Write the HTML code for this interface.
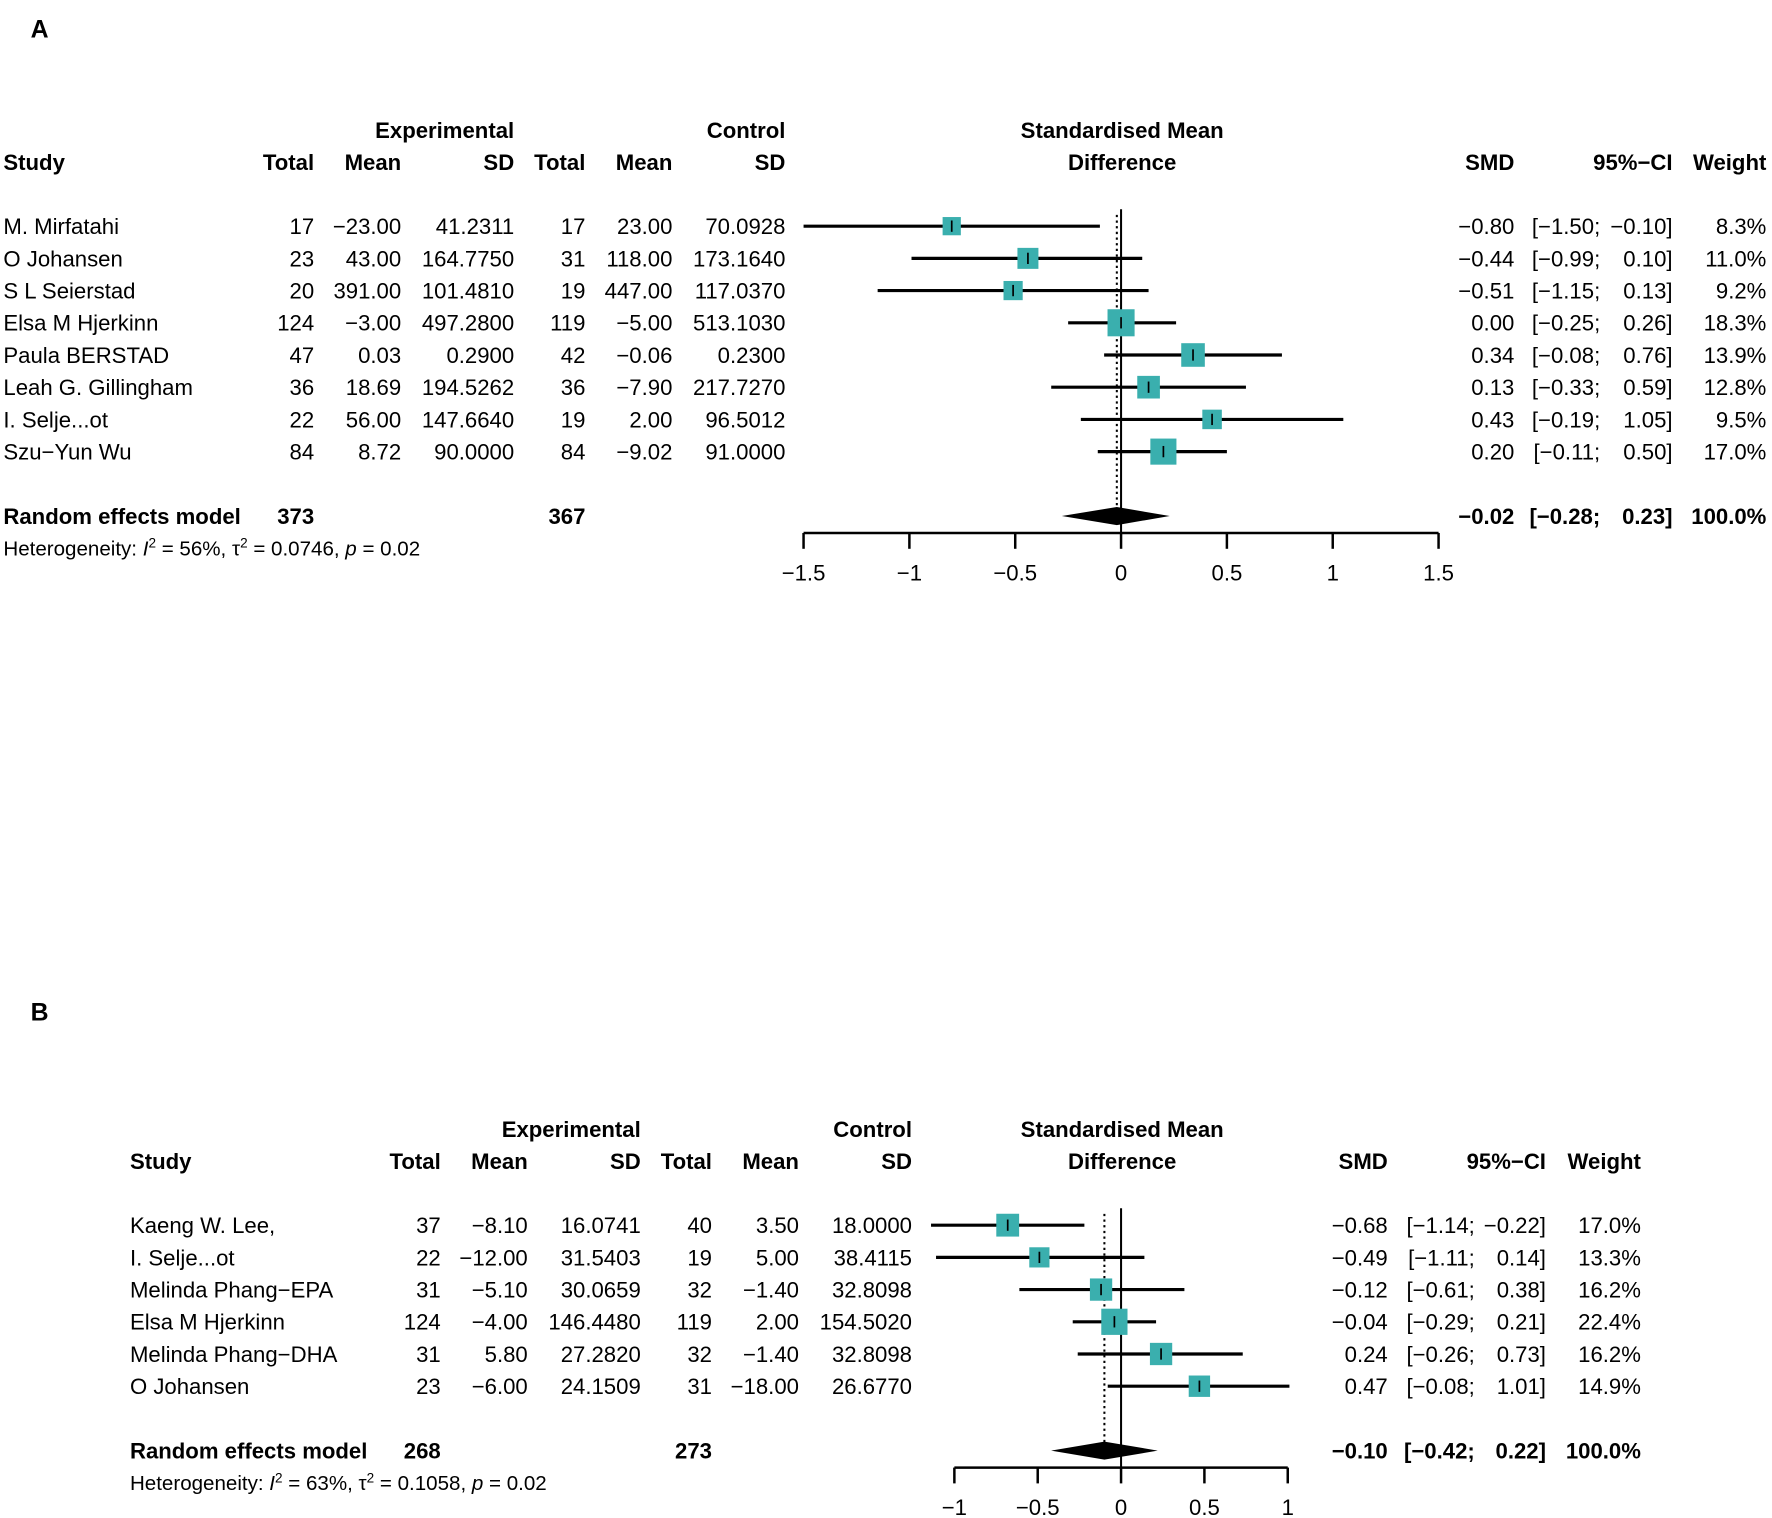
<!DOCTYPE html>
<html><head><meta charset="utf-8"><style>
html,body{margin:0;padding:0;background:#fff;}
svg{display:block;font-family:"Liberation Sans",Arial,sans-serif;}
</style></head><body>
<svg id="chart" width="1772" height="1518" viewBox="0 0 1568 1343" xmlns="http://www.w3.org/2000/svg"></svg>
<script>
// Panel A data
const studiesA = ["M. Mirfatahi","O Johansen","S L Seierstad","Elsa M Hjerkinn","Paula BERSTAD","Leah G. Gillingham","I. Selje...ot","Szu\u2212Yun Wu"];
const expTotalA = ["17","23","20","124","47","36","22","84"];
const expMeanA = ["\u221223.00","43.00","391.00","\u22123.00","0.03","18.69","56.00","8.72"];
const expSdA = ["41.2311","164.7750","101.4810","497.2800","0.2900","194.5262","147.6640","90.0000"];
const ctlTotalA = ["17","31","19","119","42","36","19","84"];
const ctlMeanA = ["23.00","118.00","447.00","\u22125.00","\u22120.06","\u22127.90","2.00","\u22129.02"];
const ctlSdA = ["70.0928","173.1640","117.0370","513.1030","0.2300","217.7270","96.5012","91.0000"];
const smdA = [-0.80,-0.44,-0.51,0.00,0.34,0.13,0.43,0.20];
const loA = [-1.50,-0.99,-1.15,-0.25,-0.08,-0.33,-0.19,-0.11];
const hiA = [-0.10,0.10,0.13,0.26,0.76,0.59,1.05,0.50];
const weightA = [8.3,11.0,9.2,18.3,13.9,12.8,9.5,17.0];
const pooledA = [-0.02,-0.28,0.23];
const totalsA = ["373","367"];
const hetA = ["56%","0.0746","0.02"];
const ticksA = [-1.5,-1,-0.5,0,0.5,1,1.5];

// Panel B data
const studiesB = ["Kaeng W. Lee,","I. Selje...ot","Melinda Phang\u2212EPA","Elsa M Hjerkinn","Melinda Phang\u2212DHA","O Johansen"];
const expTotalB = ["37","22","31","124","31","23"];
const expMeanB = ["\u22128.10","\u221212.00","\u22125.10","\u22124.00","5.80","\u22126.00"];
const expSdB = ["16.0741","31.5403","30.0659","146.4480","27.2820","24.1509"];
const ctlTotalB = ["40","19","32","119","32","31"];
const ctlMeanB = ["3.50","5.00","\u22121.40","2.00","\u22121.40","\u221218.00"];
const ctlSdB = ["18.0000","38.4115","32.8098","154.5020","32.8098","26.6770"];
const smdB = [-0.68,-0.49,-0.12,-0.04,0.24,0.47];
const loB = [-1.14,-1.11,-0.61,-0.29,-0.26,-0.08];
const hiB = [-0.22,0.14,0.38,0.21,0.73,1.01];
const weightB = [17.0,13.3,16.2,22.4,16.2,14.9];
const pooledB = [-0.10,-0.42,0.22];
const totalsB = ["268","273"];
const hetB = ["63%","0.1058","0.02"];
const ticksB = [-1,-0.5,0,0.5,1];

const NS="http://www.w3.org/2000/svg";
const svg=document.getElementById('chart');
const FS=19.6;
function mk(tag,attrs,parent){const e=document.createElementNS(NS,tag);for(const k in attrs)e.setAttribute(k,attrs[k]);(parent||svg).appendChild(e);return e;}
function txt(s,x,y,anchor,bold,parent){const t=mk('text',{x:x,y:y,'text-anchor':anchor||'start','font-size':FS,fill:'#000'},parent);if(bold)t.setAttribute('font-weight','bold');t.textContent=s;return t;}
function fmt(v){const s=Math.abs(v).toFixed(2);return (v<0?'\u2212':'')+s;}
function fmtT(v){const s=String(Math.abs(v));return (v<0?'\u2212':'')+s;}

function panel(o){
  const g=mk('g',{});
  
  
  const X=v=>o.x0+v*o.unit;
  const lab=mk('text',{x:o.labelX,y:o.labelY,'font-size':22,'font-weight':'bold','text-anchor':'middle'},g);
  lab.textContent=o.label;
  
  
  const c=o.cols, h1=o.h1, h2=o.h1+28.5;
  const hdr=mk('g',{},g);
  
  
  txt('Experimental',c.esd,h1,'end',true,hdr);
  txt('Control',c.csd,h1,'end',true,hdr);
  txt('Standardised Mean',o.x0+1,h1,'middle',true,hdr);
  txt('Study',c.study,h2,'start',true,hdr);
  txt('Total',c.et,h2,'end',true,hdr);
  txt('Mean',c.em,h2,'end',true,hdr);
  txt('SD',c.esd,h2,'end',true,hdr);
  txt('Total',c.ct,h2,'end',true,hdr);
  txt('Mean',c.cm,h2,'end',true,hdr);
  txt('SD',c.csd,h2,'end',true,hdr);
  txt('Difference',o.x0+1,h2,'middle',true,hdr);
  txt('SMD',c.smd,h2,'end',true,hdr);
  txt('95%\u2212CI',c.ci,h2,'end',true,hdr);
  txt('Weight',c.w,h2,'end',true,hdr);
  const n=o.studies.length;
  const rowY=i=>o.r0+i*28.5;
  const reY=rowY(n-1)+57;
  const axisY=reY+15;
  const zl=mk('line',{x1:X(0),x2:X(0),y1:rowY(0)-15,y2:axisY,stroke:'#000','stroke-width':1.8},g);
  
  
  const pl=mk('line',{x1:X(o.pooled[0]),x2:X(o.pooled[0]),y1:rowY(0)-10,y2:reY+8,stroke:'#000','stroke-width':1.8,'stroke-dasharray':'2,3'},g);
  
  
  for(let i=0;i<n;i++){
    const y=rowY(i), ty=y+7;
    const r=mk('g',{},g);
    
    
    txt(o.studies[i],c.study,ty,'start',false,r);
    txt(o.et[i],c.et,ty,'end',false,r);
    txt(o.em[i],c.em,ty,'end',false,r);
    txt(o.esd[i],c.esd,ty,'end',false,r);
    txt(o.ct[i],c.ct,ty,'end',false,r);
    txt(o.cm[i],c.cm,ty,'end',false,r);
    txt(o.csd[i],c.csd,ty,'end',false,r);
    txt(fmt(o.smd[i]),c.smd,ty,'end',false,r);
    txt('['+fmt(o.lo[i])+';',c.ciSemi,ty,'end',false,r);
    txt(fmt(o.hi[i])+']',c.ci,ty,'end',false,r);
    txt(o.w[i].toFixed(1)+'%',c.w,ty,'end',false,r);
    const ci=mk('line',{x1:X(o.lo[i]),x2:X(o.hi[i]),y1:y,y2:y,stroke:'#000','stroke-width':2.8},r);
    
    
    const s=o.sq*Math.sqrt(o.w[i]);
    const sq=mk('rect',{x:X(o.smd[i])-s/2,y:y-s/2,width:s,height:s,fill:'#3aafae'},r);
    
    
    const tk=mk('line',{x1:X(o.smd[i]),x2:X(o.smd[i]),y1:y-5,y2:y+5,stroke:'#000','stroke-width':1.5},r);
    
    
  }
  const pr=mk('g',{},g);
  
  
  const ry=reY+7;
  txt('Random effects model',c.study,ry,'start',true,pr);
  txt(o.totals[0],c.et,ry,'end',true,pr);
  txt(o.totals[1],c.ct,ry,'end',true,pr);
  txt(fmt(o.pooled[0]),c.smd,ry,'end',true,pr);
  txt('['+fmt(o.pooled[1])+';',c.ciSemi,ry,'end',true,pr);
  txt(fmt(o.pooled[2])+']',c.ci,ry,'end',true,pr);
  txt('100.0%',c.w,ry,'end',true,pr);
  const d=mk('polygon',{points:`${X(o.pooled[1])},${reY} ${X(o.pooled[0])},${reY-8} ${X(o.pooled[2])},${reY} ${X(o.pooled[0])},${reY+8}`,fill:'#000'},pr);
  
  
  const ht=mk('text',{x:c.study,y:reY+35,'font-size':18.2},g);
  
  
  ht.innerHTML=`Heterogeneity: <tspan font-style="italic">I</tspan><tspan dy="-7" font-size="12">2</tspan><tspan dy="7"> = ${o.het[0]}, \u03C4</tspan><tspan dy="-7" font-size="12">2</tspan><tspan dy="7"> = ${o.het[1]}, </tspan><tspan font-style="italic">p</tspan> = ${o.het[2]}`;
  const ax=mk('g',{},g);
  
  
  const t0=o.ticks[0], t1=o.ticks[o.ticks.length-1];
  mk('line',{x1:X(t0),x2:X(t1),y1:axisY,y2:axisY,stroke:'#000','stroke-width':2.2},ax);
  o.ticks.forEach(t=>{
    mk('line',{x1:X(t),x2:X(t),y1:axisY,y2:axisY+14,stroke:'#000','stroke-width':2.2},ax);
    const tl=txt(fmtT(t),X(t),axisY+42,'middle',false,ax);
    
    
  });
}

panel({name:'panel-a',label:'A',labelX:35,labelY:33,h1:122,r0:200,x0:992,unit:187.3,sq:5.6,
  cols:{study:3,et:278,em:355,esd:455,ct:518,cm:595,csd:695,smd:1340,ciSemi:1416,ci:1480,w:1563},
  studies:studiesA,et:expTotalA,em:expMeanA,esd:expSdA,ct:ctlTotalA,cm:ctlMeanA,csd:ctlSdA,
  smd:smdA,lo:loA,hi:hiA,w:weightA,pooled:pooledA,totals:totalsA,het:hetA,ticks:ticksA});
panel({name:'panel-b',label:'B',labelX:35,labelY:903,h1:1006,r0:1084,x0:992,unit:147.5,sq:4.9,
  cols:{study:115,et:390,em:467,esd:567,ct:630,cm:707,csd:807,smd:1228,ciSemi:1305,ci:1368,w:1452},
  studies:studiesB,et:expTotalB,em:expMeanB,esd:expSdB,ct:ctlTotalB,cm:ctlMeanB,csd:ctlSdB,
  smd:smdB,lo:loB,hi:hiB,w:weightB,pooled:pooledB,totals:totalsB,het:hetB,ticks:ticksB});
</script>
</body></html>
